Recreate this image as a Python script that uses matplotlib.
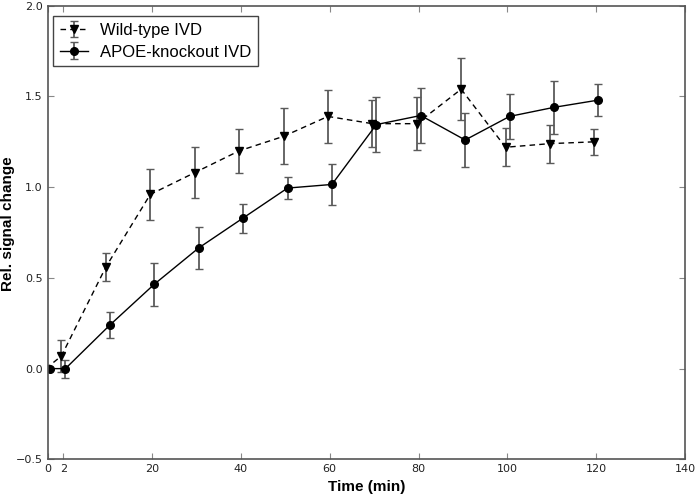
import numpy as np
import matplotlib
matplotlib.use('Agg')
import matplotlib.pyplot as plt

# time points (min) and the axis position used for each one
times = [0, 2, 10, 20, 30, 40, 50, 60, 70, 80, 90, 100, 110, 120]
tick_labels = ['0', '2', '20', '40', '60', '80', '100', '120', '140']
tick_times = [0, 2, 20, 40, 60, 80, 100, 120, 140]

wt_mean = [0.0, 0.07, 0.56, 0.96, 1.08, 1.20, 1.28, 1.39, 1.35, 1.35, 1.54, 1.22, 1.24, 1.25]
wt_err = [0.0, 0.09, 0.075, 0.14, 0.14, 0.12, 0.155, 0.145, 0.13, 0.145, 0.17, 0.105, 0.105, 0.07]

ko_mean = [0.0, 0.0, 0.24, 0.465, 0.665, 0.83, 0.995, 1.015, 1.345, 1.395, 1.26, 1.39, 1.44, 1.48]
ko_err = [0.0, 0.05, 0.07, 0.118, 0.118, 0.08, 0.06, 0.115, 0.15, 0.15, 0.15, 0.125, 0.145, 0.087]


def tpos(t):
    # the 0 and 2 min points are squeezed in at the left of the axis
    if t == 0:
        return -3.5
    if t == 2:
        return 0.0
    return float(t)


x = np.array([tpos(t) for t in times])
ticks = [tpos(t) for t in tick_times]

plt.rcParams['font.family'] = 'DejaVu Sans'
fig = plt.figure(figsize=(6.95, 4.99), dpi=100)
ax = fig.add_axes([0.0686, 0.0795, 0.917, 0.909])

ax.errorbar(x - 0.4, wt_mean, yerr=wt_err, fmt='v', ls='--', color='black',
            ecolor='#5a5a5a', elinewidth=1.3, capsize=3, capthick=1,
            markersize=5.5, lw=1, dashes=(4, 3), label='Wild-type IVD')
ax.errorbar(x + 0.5, ko_mean, yerr=ko_err, fmt='o', ls='-', color='black',
            ecolor='#5a5a5a', elinewidth=1.3, capsize=3, capthick=1,
            markersize=5.5, lw=1, label='APOE-knockout IVD')

ax.set_xlim(-3.5, 140)
ax.set_ylim(-0.5, 2.0)
ax.set_xticks(ticks)
ax.set_xticklabels(tick_labels)
ax.set_yticks([-0.5, 0.0, 0.5, 1.0, 1.5, 2.0])
ax.tick_params(direction='in', top=True, right=True, labelsize=8,
               length=4, color='#888888', labelcolor='#222222')
for s in ax.spines.values():
    s.set_color('#555555')
    s.set_linewidth(1.2)

ax.set_xlabel('Time (min)', fontsize=11, fontweight='bold', family='Liberation Sans', labelpad=4)
ax.set_ylabel('Rel. signal change', fontsize=11, fontweight='bold', family='Liberation Sans')
ax.yaxis.set_label_coords(-0.051, 0.52)

leg = ax.legend(loc='upper left', bbox_to_anchor=(0.0085, 0.977), borderaxespad=0,
                fancybox=False, prop={'family': 'Liberation Sans', 'size': 12},
                handlelength=1.7, handletextpad=0.7, borderpad=0.4,
                labelspacing=0.4, framealpha=1)
leg.get_frame().set_edgecolor('#444444')
leg.get_frame().set_linewidth(1)

plt.savefig('out.png', dpi=100)
